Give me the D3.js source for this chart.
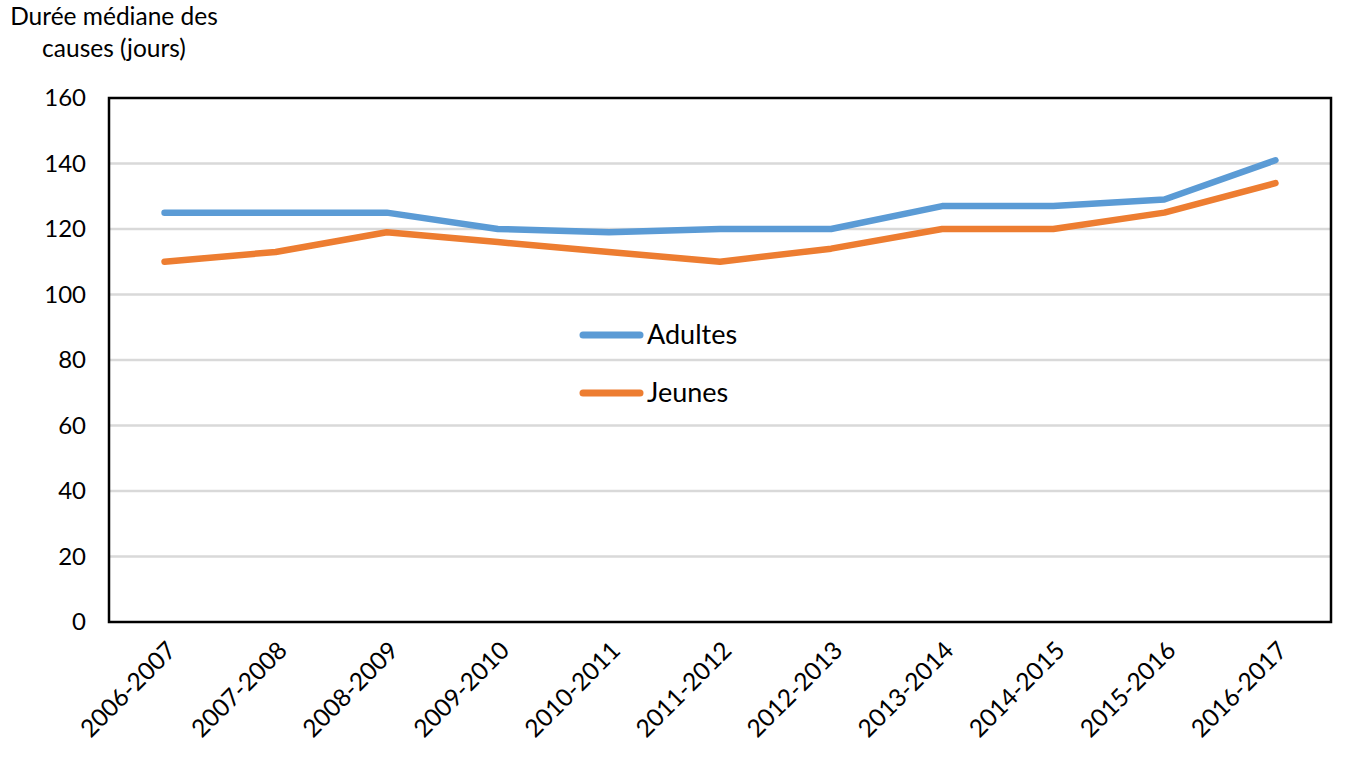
<!DOCTYPE html>
<html><head><meta charset="utf-8">
<script src="https://cdn.jsdelivr.net/npm/d3@7"></script>
<style>
body{margin:0;background:#fff;}
svg{display:block;font-family:Lato, "Open Sans", sans-serif;}
</style></head>
<body>
<svg id="c" width="1355" height="771"></svg>
<script>
const categories = ["2006-2007","2007-2008","2008-2009","2009-2010","2010-2011","2011-2012","2012-2013","2013-2014","2014-2015","2015-2016","2016-2017"];
const adultes = [125,125,125,120,119,120,120,127,127,129,141];
const jeunes = [110,113,119,116,113,110,114,120,120,125,134];
const yTicks = [0,20,40,60,80,100,120,140,160];
const seriesNames = ["Adultes","Jeunes"];
const seriesColors = ["#5b9bd5","#ed7d31"];

const svg = d3.select("#c");
const pL = 109, pR = 1331, pT = 98, pB = 622;
const x = d3.scaleBand().domain(categories).range([pL, pR]);
const y = d3.scaleLinear().domain([0,160]).range([pB, pT]);
const FF = "Lato, 'Open Sans', sans-serif";

// grid
svg.append("g").selectAll("line").data(yTicks.filter(d=>d>0 && d<160)).join("line")
  .attr("x1", pL).attr("x2", pR)
  .attr("y1", d=>y(d)).attr("y2", d=>y(d))
  .attr("stroke","#d9d9d9").attr("stroke-width",2.5);

// y axis labels
const yAxis = d3.axisLeft(y).tickValues(yTicks).tickSize(0).tickPadding(23);
const ga = svg.append("g").attr("transform",`translate(${pL},0)`).call(yAxis);
ga.select(".domain").remove();
ga.selectAll("text").attr("font-size",24).attr("fill","#000").attr("font-family",FF);

// x axis labels
const xAxis = d3.axisBottom(x).tickSize(0);
const gx = svg.append("g").attr("transform",`translate(0,${pB})`).call(xAxis);
gx.select(".domain").remove();
gx.selectAll("text")
  .attr("font-size",24.5).attr("fill","#000").attr("font-family",FF)
  .attr("text-anchor","end")
  .attr("dy",null).attr("y",0)
  .attr("transform","translate(13,30) rotate(-45)");

// lines
const line = d3.line().x((d,i)=>x(categories[i]) + x.bandwidth()/2).y(d=>y(d));
[adultes, jeunes].forEach((s,k)=>{
  svg.append("path").datum(s).attr("d", line)
    .attr("fill","none").attr("stroke",seriesColors[k]).attr("stroke-width",6.5)
    .attr("stroke-linecap","round").attr("stroke-linejoin","round");
});

// frame
svg.append("rect").attr("x",pL).attr("y",pT).attr("width",pR-pL).attr("height",pB-pT)
  .attr("fill","none").attr("stroke","#000").attr("stroke-width",2.5);

// legend
const lg = svg.append("g");
seriesNames.forEach((n,k)=>{
  const yy = 335 + k*58;
  lg.append("line").attr("x1",583).attr("x2",640).attr("y1",yy).attr("y2",yy)
    .attr("stroke",seriesColors[k]).attr("stroke-width",7).attr("stroke-linecap","round");
  lg.append("text").attr("x",647).attr("y",yy).attr("dy","0.35em")
    .attr("font-size",27).attr("fill","#000").attr("font-family",FF).text(n);
});

// title
const t = svg.append("text").attr("font-size",24.5).attr("fill","#000").attr("text-anchor","middle").attr("font-family",FF);
t.append("tspan").attr("x",114).attr("y",25).text("Durée médiane des");
t.append("tspan").attr("x",114).attr("y",57).text("causes (jours)");
</script>
</body></html>
